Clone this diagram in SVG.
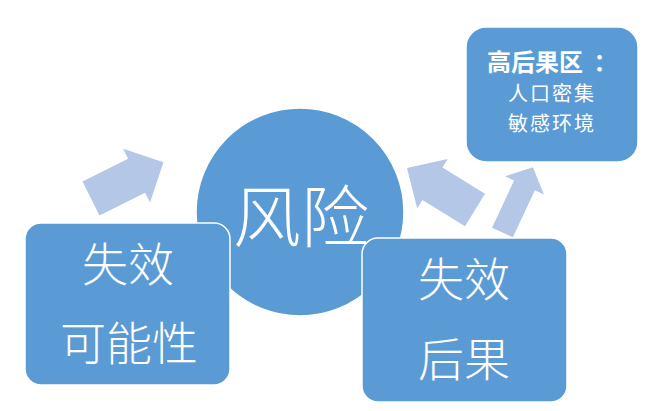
<svg xmlns="http://www.w3.org/2000/svg" width="649" height="411" viewBox="0 0 649 411">
<style>
.node{fill:#5b9bd5;stroke:#ffffff;stroke-width:1.5}
.arrow{fill:#b4c7e7}
.t{fill:#ffffff;font-family:"Noto Sans CJK SC","Noto Sans",sans-serif;text-anchor:middle}
.big{font-size:46px;font-weight:300}
.huge{font-size:68px;font-weight:300}
.hd{font-size:24px;font-weight:700;text-anchor:start}
.sm{font-size:20px;letter-spacing:2px}
</style>
<rect width="649" height="411" fill="#ffffff"/>
<g id="risk">
<circle class="node" cx="300" cy="212" r="104"/>
<text class="t huge" x="301" y="242">风险</text>
</g>
<g id="connectors">
<polygon class="arrow" points="0,-19 51,-19 51,-30 81,0 51,30 51,19 0,19" transform="translate(91,198.5) rotate(-26.6)"/>
<polygon class="arrow" points="0,-19 50,-19 50,-29 80,0 50,29 50,19 0,19" transform="translate(475,210) rotate(211.7)"/>
<polygon class="arrow" points="0,-11.5 52,-11.5 52,-21.5 72,0 52,21.5 52,11.5 0,11.5" transform="translate(502.5,232.5) rotate(-65)"/>
</g>
<g id="likelihood">
<rect class="node" x="25" y="223" width="205" height="162" rx="16"/>
<text class="t big" x="128" y="281">失效</text>
<text class="t big" x="129" y="360">可能性</text>
</g>
<g id="consequence">
<rect class="node" x="362" y="238" width="205" height="164" rx="16"/>
<text class="t big" x="464" y="296">失效</text>
<text class="t big" x="464" y="376">后果</text>
</g>
<g id="highconsequence">
<rect class="node" x="466" y="27" width="172" height="135" rx="20"/>
<text class="t hd" x="487" y="71">高后果区 <tspan dx="5">：</tspan></text>
<text class="t sm" x="552" y="101">人口密集</text>
<text class="t sm" x="552" y="131">敏感环境</text>
</g>
</svg>
